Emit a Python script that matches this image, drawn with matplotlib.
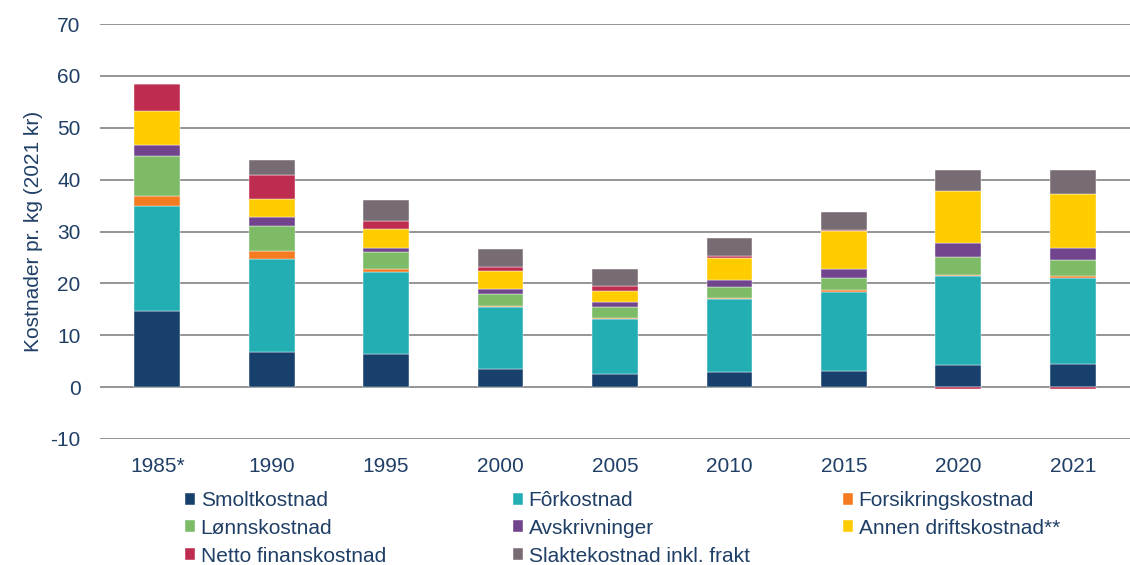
import matplotlib
matplotlib.use("Agg")
import matplotlib.pyplot as plt
import numpy as np

plt.rcParams['font.family'] = ['Liberation Sans', 'DejaVu Sans']
plt.rcParams['axes.unicode_minus'] = False

years = ["1985*", "1990", "1995", "2000", "2005", "2010", "2015", "2020", "2021"]

# kostnader pr. kg (2021 kr), lest av figuren
smolt = [14.6, 6.8, 6.4, 3.5, 2.6, 3.0, 3.2, 4.25, 4.4]
forkost = [20.25, 17.9, 15.7, 11.9, 10.5, 13.9, 15.2, 17.2, 16.7]
forsikring = [2.05, 1.6, 0.7, 0.3, 0.3, 0.3, 0.25, 0.2, 0.25]
lonn = [7.6, 4.7, 3.3, 2.2, 2.0, 2.1, 2.4, 3.4, 3.15]
avskr = [2.1, 1.7, 0.8, 1.1, 1.1, 1.3, 1.8, 2.65, 2.4]
annen = [6.6, 3.6, 3.5, 3.4, 2.1, 4.2, 7.3, 10.1, 10.4]
finans = [5.15, 4.6, 1.7, 0.7, 0.8, 0.4, 0.2, -0.4, -0.3]
slakt = [0.0, 2.8, 3.9, 3.6, 3.4, 3.6, 3.5, 4.1, 4.5]

series = [
    ("Smoltkostnad", smolt, "#17406D"),
    ("Fôrkostnad", forkost, "#23AEB3"),
    ("Forsikringskostnad", forsikring, "#F47B20"),
    ("Lønnskostnad", lonn, "#7DBB67"),
    ("Avskrivninger", avskr, "#71458E"),
    ("Annen driftskostnad**", annen, "#FFCC00"),
    ("Netto finanskostnad", finans, "#BE2D4F"),
    ("Slaktekostnad inkl. frakt", slakt, "#786C74"),
]

txt = "#1F3F66"

fig = plt.figure(figsize=(11.3, 5.65), dpi=100)
ax = fig.add_axes([100 / 1130, 126 / 565, 1030 / 1130, 415 / 565])

x = np.arange(len(years))
pos_base = np.zeros(len(years))
neg_base = np.zeros(len(years))
handles = {}
for name, vals, col in series:
    v = np.array(vals)
    base = np.where(v >= 0, pos_base, neg_base)
    b = ax.bar(x, v, 0.4, bottom=base, color=col, label=name, zorder=3,
               edgecolor="white", linewidth=0.3)
    handles[name] = b
    pos_base = pos_base + np.where(v >= 0, v, 0)
    neg_base = neg_base + np.where(v < 0, v, 0)

ax.set_xlim(-0.5, len(years) - 0.5)
ax.set_ylim(-10, 70)
ax.set_yticks(range(-10, 71, 10))
ax.set_xticks(x)
ax.set_xticklabels(years)
ax.yaxis.grid(True, color="#8C8C8C", linewidth=1.3, zorder=0)
ax.tick_params(axis="y", length=0, labelsize=15, colors=txt, pad=14)
ax.tick_params(axis="x", length=0, labelsize=15, colors=txt, pad=13)
for s in ax.spines.values():
    s.set_visible(False)
ax.set_ylabel("Kostnader pr. kg (2021 kr)", fontsize=15, color=txt, labelpad=5)

# tre legendkolonner plassert hver for seg
columns = [
    (185, ["Smoltkostnad", "Lønnskostnad", "Netto finanskostnad"]),
    (513, ["Fôrkostnad", "Avskrivninger", "Slaktekostnad inkl. frakt"]),
    (843, ["Forsikringskostnad", "Annen driftskostnad**"]),
]
for xpos, names in columns:
    leg = fig.legend([handles[n] for n in names], names, ncol=1, frameon=False,
                     loc="upper left", bbox_to_anchor=(xpos / 1130, 1 - 491 / 565),
                     fontsize=15, handlelength=0.5, handleheight=0.5,
                     handletextpad=0.25, labelspacing=0.42,
                     borderaxespad=0, borderpad=0)
    for t in leg.get_texts():
        t.set_color(txt)

fig.savefig("out.png", dpi=100)
